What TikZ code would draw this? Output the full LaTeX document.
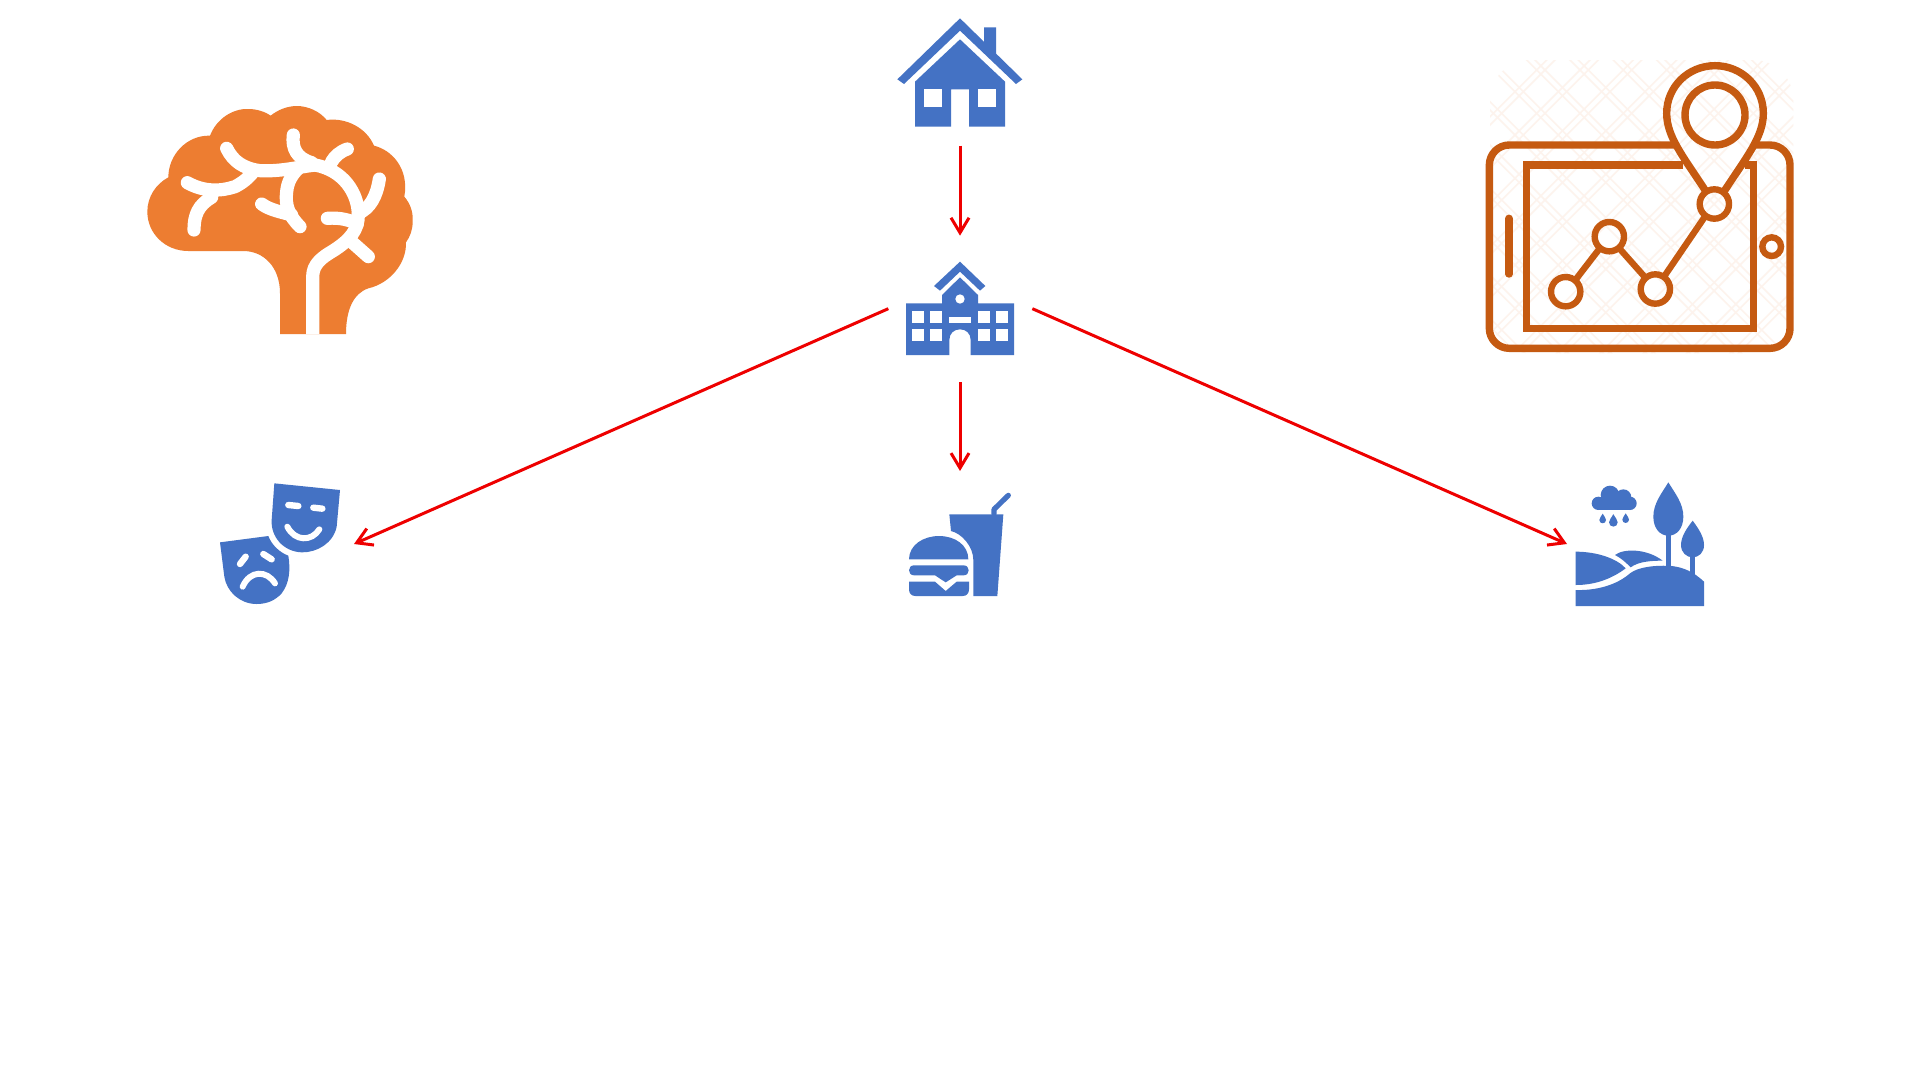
\documentclass[tikz,border=0pt]{standalone}
\usetikzlibrary{arrows.meta}
\definecolor{iconblue}{HTML}{4472C4}
\definecolor{brainor}{HTML}{ED7D31}
\definecolor{tabor}{HTML}{C55A11}
\definecolor{lattice}{HTML}{FDF3ED}
\definecolor{arrowred}{HTML}{EE0000}
\tikzset{
  bluefill/.style={fill=iconblue,draw=none},
  hole/.style={fill=white,draw=none},
  vein/.style={draw=white,line width=6.6pt,line cap=round,line join=round},
  whitestroke/.style={draw=white,line width=3pt,line cap=round},
  tabline/.style={draw=tabor,line width=3.7pt,line cap=round,line join=round},
  tabthin/.style={draw=tabor,line width=3.2pt},
  flow/.style={draw=arrowred,line width=1.5pt,-{Straight Barb[length=7.5pt,width=9pt,line width=1.5pt]}},
}
\begin{document}
\begin{tikzpicture}[x=0.5pt,y=-0.5pt]
\useasboundingbox (0,0) rectangle (1920,1088);
\fill[white] (0,0) rectangle (1920,1088);

% brain
\begin{scope}[shift={(120,80)},scale=1/3]
\fill[brainor] (480,762) -- (480,640) .. controls (480,560) and (430,513) .. (370,513) -- (205,513)
 .. controls (135,513) and (82,460) .. (82,395) .. controls (82,350) and (108,312) .. (145,292)
 .. controls (145,225) and (200,165) .. (270,167) .. controls (290,115) and (340,85) .. (385,87)
 .. controls (410,87) and (435,95) .. (452,107) .. controls (475,88) and (505,78) .. (530,78)
 .. controls (565,78) and (600,95) .. (620,120) .. controls (680,112) and (740,145) .. (762,197)
 .. controls (815,210) and (868,265) .. (853,350) .. controls (870,370) and (880,395) .. (878,425)
 .. controls (878,450) and (870,470) .. (858,487) .. controls (860,550) and (810,610) .. (745,625)
 .. controls (700,640) and (678,690) .. (678,762) -- cycle;
\draw[vein,line cap=butt] (578,762) -- (578,590) .. controls (578,550) and (610,530) .. (640,512)
 .. controls (690,480) and (715,450) .. (715,405) .. controls (715,340) and (670,270) .. (585,255);
\draw[vein] (585,255) .. controls (530,262) and (480,275) .. (420,272) .. controls (370,265) and (340,245) .. (320,205);
\draw[vein] (520,165) .. controls (515,205) and (530,235) .. (575,248);
\draw[vein] (682,207) .. controls (660,215) and (645,228) .. (635,245);
\draw[vein] (778,297) .. controls (770,350) and (750,385) .. (715,400);
\draw[vein] (622,415) .. controls (660,412) and (690,420) .. (712,432);
\draw[vein] (700,490) -- (745,530);
\draw[vein] (540,440) .. controls (505,405) and (495,375) .. (500,335) .. controls (503,305) and (515,285) .. (535,265);
\draw[vein] (425,372) .. controls (450,390) and (480,395) .. (515,405);
\draw[vein] (202,308) .. controls (250,335) and (300,335) .. (345,320) .. controls (365,310) and (385,295) .. (400,275);
\draw[vein] (222,450) .. controls (222,405) and (235,375) .. (275,352);
\end{scope}

% house
\begin{scope}[shift={(860,0)},scale=1/3]
\fill[bluefill] (372,82) -- (408,82) -- (408,170) -- (372,140) -- cycle;
\fill[bluefill] (300,55) -- (487,238) -- (468,252) -- (300,92) -- (132,252) -- (112,238) -- cycle;
\fill[bluefill] (300,118) -- (435,245) -- (435,380) -- (327,380) -- (327,268) -- (273,268) -- (273,380) -- (165,380) -- (165,245) -- cycle;
\fill[hole] (192,268) rectangle (246,322);
\fill[hole] (354,268) rectangle (408,322);
\coordinate (houseS) at (300,437);
\coordinate (schoolN) at (300,707);
\end{scope}

% school
\begin{scope}[shift={(860,0)},scale=1/3]
\fill[bluefill] (300,785) -- (376,858) -- (360,872) -- (300,815) -- (240,872) -- (222,858) -- cycle;
\fill[bluefill] (300,832) -- (354,885) -- (354,910) -- (462,910) -- (462,1065) -- (332,1065) -- (332,1020)
 .. controls (332,1000) and (318,988) .. (300,988) .. controls (282,988) and (268,1000) .. (268,1020)
 -- (268,1065) -- (138,1065) -- (138,910) -- (246,910) -- (246,885) -- cycle;
\fill[hole] (300,897) circle[radius=14];
\foreach \xa in {156,210,354,408}{
  \fill[hole] (\xa,934) rectangle ++(36,36);
  \fill[hole] (\xa,988) rectangle ++(36,36);
}
\fill[hole] (268,952) rectangle (332,970);
\coordinate (schoolW) at (85,926);
\coordinate (schoolE) at (517,926);
\end{scope}
\coordinate (schoolS) at (960,382);
\coordinate (foodN) at (960,471);
\coordinate (masksE) at (354,544);
\coordinate (parkW) at (1567,544);

% tablet
\begin{scope}[shift={(1470,50)},scale=1/3]
\begin{scope}
\clip[rounded corners=20pt] (60,30) rectangle (970,910);
\foreach \k in {-900,-770,...,1100}{
  \draw[lattice,line width=0.8pt] (\k,0) -- ++(940,940);
  \draw[lattice,line width=0.8pt] (\k+25,0) -- ++(940,940);
  \draw[lattice,line width=0.8pt] (\k+900,0) -- ++(-940,940);
  \draw[lattice,line width=0.8pt] (\k+925,0) -- ++(-940,940);
}
\end{scope}
\draw[tabline,rounded corners=10pt] (612,285) -- (58,285) -- (58,895) -- (960,895) -- (960,285) -- (860,285);
\draw[tabline,line join=miter,line cap=butt] (640,345) -- (170,345) -- (170,835) -- (850,835) -- (850,345) -- (825,345);
\draw[tabline] (117,505) -- (117,672);
\draw[tabline] (705,420) .. controls (640,320) and (590,260) .. (590,190)
 .. controls (590,110) and (655,47) .. (735,47) .. controls (815,47) and (880,110) .. (880,190)
 .. controls (880,260) and (830,320) .. (765,420);
\draw[tabline] (735,195) circle[radius=90];
\draw[tabthin] (733,462) circle[radius=44];
\draw[tabthin] (418,560) circle[radius=44];
\draw[tabthin] (556,717) circle[radius=44];
\draw[tabthin] (287,725) circle[radius=44];
\draw[tabthin] (905,590) circle[radius=28];
\draw[tabthin] (316,690) -- (390,594);
\draw[tabthin] (447,594) -- (527,684);
\draw[tabthin] (582,680) -- (706,498);
\end{scope}

% masks
\begin{scope}[shift={(200,470)},scale=1/3]
\fill[bluefill] (223,40) -- (420,60) -- (410,170) .. controls (400,220) and (350,248) .. (305,247)
 .. controls (250,245) and (212,200) .. (215,150) -- cycle;
\draw[whitestroke,line width=3.2pt] (265,105) -- (295,108);
\draw[whitestroke,line width=3.2pt] (340,113) -- (367,116);
\draw[whitestroke] (262,170) .. controls (285,215) and (335,215) .. (358,178);
\fill[bluefill] (60,217) -- (205,198) .. controls (215,225) and (240,248) .. (265,257)
 .. controls (272,300) and (268,340) .. (245,370) .. controls (225,392) and (200,402) .. (170,402)
 .. controls (120,402) and (80,365) .. (73,320) -- cycle;
\draw[whitestroke,line width=3.2pt] (120,282) -- (137,260);
\draw[whitestroke,line width=3.2pt] (190,252) -- (215,268);
\draw[whitestroke] (128,350) .. controls (150,300) and (200,300) .. (225,340);
\end{scope}

% food
\begin{scope}[shift={(890,470)},scale=1/3]
\fill[bluefill] (178,133) -- (340,133) -- (322,378) -- (250,378) -- (250,270)
 .. controls (250,230) and (215,190) .. (183,183) -- cycle;
\draw[iconblue,line width=2.6pt,line cap=round,line join=round] (312,132) -- (312,118) -- (355,76);
\fill[bluefill] (57,268) .. controls (57,225) and (100,198) .. (147,198) .. controls (195,198) and (235,225) .. (235,268) -- cycle;
\fill[bluefill] (72,286) -- (221,286) .. controls (241,286) and (241,316) .. (221,316) -- (200,316) -- (167,337) -- (135,316) -- (72,316)
 .. controls (52,316) and (52,286) .. (72,286) -- cycle;
\fill[bluefill] (57,335) -- (135,335) -- (167,363) -- (200,335) -- (237,335) -- (237,358)
 .. controls (237,370) and (230,378) .. (218,378) -- (76,378) .. controls (64,378) and (57,370) .. (57,358) -- cycle;
\end{scope}

% park
\begin{scope}[shift={(1560,470)},scale=1/3]
\fill[bluefill] (150,75) circle[radius=28];
\fill[bluefill] (190,82) circle[radius=24];
\fill[bluefill] (115,100) circle[radius=20];
\fill[bluefill] (210,100) circle[radius=20];
\fill[bluefill] (115,85) rectangle (210,120);
\foreach \dx/\dy/\dr in {128/150/10,160/157/13,197/149/10}{
  \fill[bluefill] (\dx,\dy-1.9*\dr) .. controls (\dx+0.4*\dr,\dy-1.1*\dr) and (\dx+\dr,\dy-0.6*\dr) .. (\dx+\dr,\dy)
    .. controls (\dx+\dr,\dy+1.3*\dr) and (\dx-\dr,\dy+1.3*\dr) .. (\dx-\dr,\dy)
    .. controls (\dx-\dr,\dy-0.6*\dr) and (\dx-0.4*\dr,\dy-1.1*\dr) .. (\dx,\dy-1.9*\dr) -- cycle;
}
\fill[bluefill] (325,37) .. controls (305,70) and (280,100) .. (280,140) .. controls (280,175) and (300,197) .. (325,197)
 .. controls (350,197) and (370,175) .. (370,140) .. controls (370,100) and (345,70) .. (325,37) -- cycle;
\fill[bluefill] (317,190) rectangle (333,295);
\fill[bluefill] (398,152) .. controls (380,175) and (363,200) .. (363,225) .. controls (363,248) and (380,262) .. (398,262)
 .. controls (416,262) and (432,248) .. (432,225) .. controls (432,200) and (415,175) .. (398,152) -- cycle;
\fill[bluefill] (390,255) rectangle (406,320);
\fill[bluefill] (47,360) .. controls (110,362) and (170,345) .. (210,310) .. controls (235,290) and (290,285) .. (335,288)
 .. controls (370,292) and (400,305) .. (432,335) -- (432,408) -- (47,408) -- cycle;
\fill[bluefill] (47,245) .. controls (110,245) and (170,265) .. (197,295) .. controls (150,330) and (100,345) .. (47,345) -- cycle;
\fill[bluefill] (165,255) .. controls (190,235) and (260,235) .. (308,272) .. controls (270,272) and (235,275) .. (212,292)
 .. controls (200,280) and (185,265) .. (165,255) -- cycle;
\end{scope}

% connectors
\draw[flow] (houseS) -- (schoolN);
\draw[flow] (schoolS) -- (foodN);
\draw[flow] (schoolW) -- (masksE);
\draw[flow] (schoolE) -- (parkW);
\end{tikzpicture}
\end{document}
